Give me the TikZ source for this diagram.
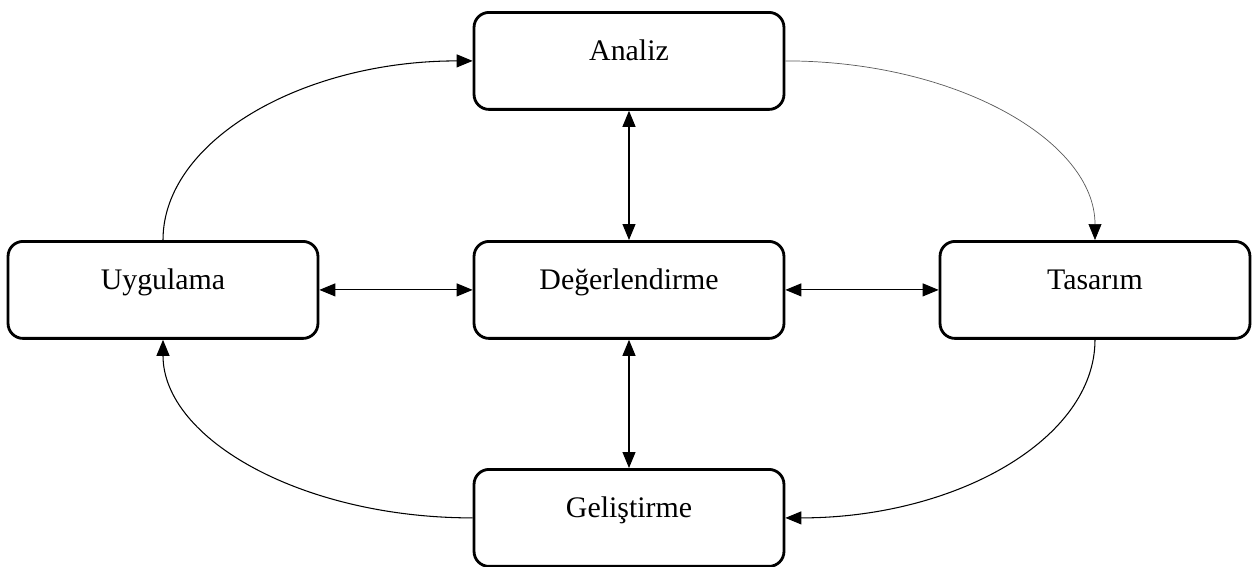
\documentclass[tikz,border=0pt]{standalone}
\usepackage{fontspec}
\setmainfont{Liberation Serif}
\usetikzlibrary{arrows.meta}
\begin{document}
\begin{tikzpicture}[x=0.02cm,y=-0.02cm,
  kutu/.style={draw,line width=1.6pt,rounded corners=0.3cm,anchor=north,
    minimum width=6.2cm,inner sep=0pt,text height=0.96cm,text depth=0.98cm,
    font=\fontsize{17}{20}\selectfont},
  ok/.style={line width=0.6pt,-{Triangle[length=0.32cm,width=0.26cm,color=black]}},
  ciftok/.style={line width=0.6pt,{Triangle[length=0.32cm,width=0.26cm]}-{Triangle[length=0.32cm,width=0.26cm]}}]
\useasboundingbox (0,0) rectangle (1259,566);
\node[kutu] (analiz) at (629,11) {Analiz};
\node[kutu] (uygulama) at (163,240) {Uygulama};
\node[kutu] (deger) at (629,240) {Değerlendirme};
\node[kutu] (tasarim) at (1095,240) {Tasarım};
\node[kutu] (gelistirme) at (629,468) {Geliştirme};
% cevrim
\draw[ok] (uygulama.north) .. controls +(0,-99) and +(-171,0) .. (analiz.west);
\draw[ok,line width=0.4pt,draw=black!65] (analiz.east) .. controls +(171,0) and +(0,-99) .. (tasarim.north);
\draw[ok] (tasarim.south) .. controls +(0,99) and +(171,0) .. (gelistirme.east);
\draw[ok] (gelistirme.west) .. controls +(-171,0) and +(0,99) .. (uygulama.south);
% merkez
\draw[ciftok] (analiz) -- (deger);
\draw[ciftok] (deger) -- (gelistirme);
\draw[ciftok] (uygulama) -- (deger);
\draw[ciftok] (deger) -- (tasarim);
\end{tikzpicture}
\end{document}
